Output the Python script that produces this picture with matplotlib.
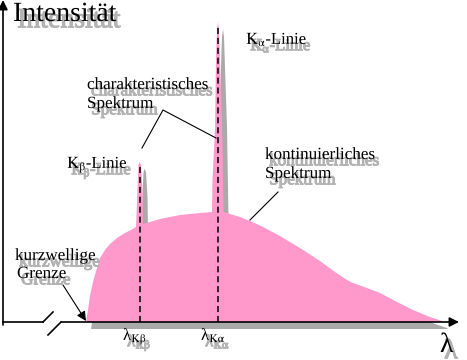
import matplotlib
matplotlib.use("Agg")
from matplotlib import patheffects as pe
from matplotlib import pyplot as plt

plt.rcParams["font.family"] = ["Liberation Serif", "DejaVu Serif"]
plt.rcParams["mathtext.fontset"] = "stix"

# spectrum: wavelength (arb. units) and intensity above the baseline
lam = [86, 88, 90, 93, 97, 100, 105, 110, 117, 125, 131, 136,
       137.5, 138.5, 139.5, 141, 142.5, 143,
       150, 160, 170, 180, 190, 200, 212,
       212.5, 215, 216, 217, 218, 219, 220, 222, 223, 223.5,
       230, 240, 250, 263, 280, 300, 320, 335, 347, 353, 367, 380, 397, 413, 430, 442, 443]
intensity = [0, 12, 26, 40, 54, 64, 72, 78, 84, 89, 92, 95,
             132, 157, 160, 157, 132, 98,
             100, 103, 105, 107, 108, 109, 110,
             142, 192, 262, 292, 300, 292, 262, 202, 142, 110,
             108, 105, 101, 95, 86, 74, 61, 50, 42, 39, 34, 29, 20, 12, 5, 1, 0]

line_lam = [140, 218]          # K-beta, K-alpha
line_top = [156, 296]
line_names = [r"$\mathrm{K_{\beta}}$-Linie", r"$\mathrm{K_{\alpha}}$-Linie"]
lam_names = [r"λ$_{\mathrm{K\beta}}$", r"λ$_{\mathrm{K\alpha}}$"]

PINK = "#ff99cc"
GRAY = "#aaaaaa"
SHADOW_DX, SHADOW_DY = 5, -7

shadow_fx = [
    pe.Stroke(offset=(3, -4.5), linewidth=0.8, foreground="#b4b4b4"),
    pe.SimplePatchShadow(offset=(3, -4.5), shadow_rgbFace="#b4b4b4", alpha=1.0),
    pe.Normal(),
]

fig = plt.figure(figsize=(4.67, 3.6), dpi=100)
ax = fig.add_axes([0, 0, 1, 1])
ax.set_xlim(0, 467)
ax.set_ylim(-38, 322)
ax.axis("off")

# spectrum with its drop shadow
ax.fill([x + SHADOW_DX for x in lam], [y + SHADOW_DY for y in intensity], color=GRAY, lw=0, zorder=1)
ax.fill(lam, intensity, color=PINK, lw=0, zorder=2)

# dashed marker lines for the characteristic lines
for x, top in zip(line_lam, line_top):
    ax.plot([x, x], [0, top], color="black", lw=1.1, ls=(0, (4, 2.5)), zorder=3)

# axes with break mark
kw = dict(color="black", lw=1.2, zorder=4)
ax.plot([3, 43], [0, 0], **kw)
ax.plot([43, 53], [0, 10], **kw)
ax.plot([48, 61], [-13, 0], **kw)
ax.annotate("", xy=(459, 0), xytext=(61, 0),
            arrowprops=dict(arrowstyle="-|>", color="black", lw=1.2, mutation_scale=14, shrinkA=0, shrinkB=0), zorder=4)
ax.annotate("", xy=(3, 322), xytext=(3, -3),
            arrowprops=dict(arrowstyle="-|>", color="black", lw=1.2, mutation_scale=14, shrinkA=0, shrinkB=0), zorder=4)

# labels
ax.text(13, 301, "Intensität", fontsize=20, path_effects=shadow_fx)
ax.text(440, -30, "λ", fontsize=20, path_effects=shadow_fx)
ax.text(67, 154, line_names[0], fontsize=12, path_effects=shadow_fx)
ax.text(246, 278, line_names[1], fontsize=12, path_effects=shadow_fx)
for x, name in zip(line_lam, lam_names):
    ax.text(x - 17, -18, name, fontsize=12, path_effects=shadow_fx)

ax.text(87, 233, "charakteristisches", fontsize=12.3, path_effects=shadow_fx)
ax.text(87, 214, "Spektrum", fontsize=12.3, path_effects=shadow_fx)
ax.plot([142, 163, 216], [174, 212, 184], color="black", lw=0.8, zorder=4)

ax.text(265, 163, "kontinuierliches", fontsize=12.3, path_effects=shadow_fx)
ax.text(265, 144, "Spektrum", fontsize=12.3, path_effects=shadow_fx)
ax.plot([278, 250], [130, 102], color="black", lw=0.8, zorder=4)

ax.text(15, 62, "kurzwellige", fontsize=12.3, path_effects=shadow_fx)
ax.text(17, 44, "Grenze", fontsize=12.3, path_effects=shadow_fx)
ax.annotate("", xy=(86, 1), xytext=(63, 37),
            arrowprops=dict(arrowstyle="-|>", color="black", lw=0.8, mutation_scale=14, shrinkA=0, shrinkB=0), zorder=4)

fig.savefig("out.png", dpi=100)
